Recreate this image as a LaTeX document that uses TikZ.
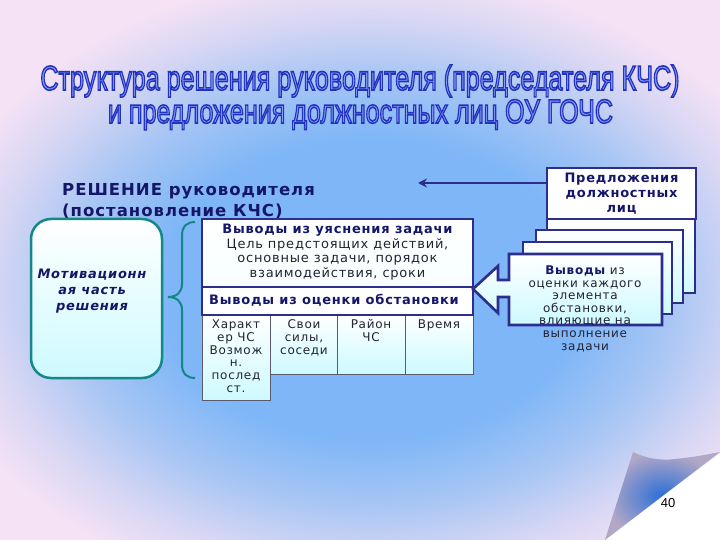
\documentclass[tikz,border=0pt]{standalone}
\usepackage{graphicx}
\usepackage{fontspec}
\usetikzlibrary{arrows.meta}
\setmainfont{DejaVu Sans}
\newfontfamily\dv{DejaVu Sans}[LetterSpace=6]
\newfontfamily\lib{Liberation Sans}
\definecolor{bgA}{RGB}{126,182,247}
\definecolor{bgB}{RGB}{168,198,244}
\definecolor{bgC}{RGB}{214,214,244}
\definecolor{bgD}{RGB}{245,226,245}
\definecolor{navyb}{RGB}{45,45,140}
\definecolor{navyt}{RGB}{22,22,105}
\definecolor{tealb}{RGB}{20,135,135}
\definecolor{lcyan}{RGB}{205,250,255}
\definecolor{txtg}{RGB}{35,35,50}
\definecolor{cellb}{RGB}{90,90,110}
\definecolor{ttlfill}{RGB}{140,155,245}
\definecolor{curlblue}{RGB}{45,110,215}
\definecolor{curlgray}{RGB}{178,168,198}
\pgfdeclareradialshading{bgsh}{\pgfpoint{0bp}{0bp}}{color(0bp)=(bgA); color(12.5bp)=(bgA); color(18bp)=(bgB); color(22.5bp)=(bgC); color(26.5bp)=(bgD); color(50bp)=(bgD)}
\newcommand\ttlout[1]{\special{pdf:literal direct 0.13 0.2 0.75 RG 0.45 w 2 Tr}#1\special{pdf:literal direct 0 Tr}}
\tikzset{
  bord/.style={draw=navyb, line width=2.6pt},
  card/.style={bord, top color=white, bottom color=lcyan, inner sep=0pt},
  subcell/.style={draw=cellb, line width=0.8pt, top color=white, bottom color=lcyan, inner sep=0pt, minimum width=68pt},
  boldtxt/.style={font=\dv\bfseries\fontsize{13}{14.7}\selectfont, text=navyt, inner sep=0pt, align=center},
  celltxt/.style={font=\dv\fontsize{12}{12.8}\selectfont, text=txtg, inner sep=0pt, align=center},
  ttl/.style={text=ttlfill, inner sep=0pt, anchor=base}
}
\begin{document}
\begin{tikzpicture}[x=1pt,y=-1pt]
\useasboundingbox (0,0) rectangle (720,540);
% background
\begin{scope}
\clip (0,0) rectangle (720,540);
\fill[bgD] (0,0) rectangle (720,540);
\shade[shading=bgsh] (-50,-10) rectangle (790,590);
\end{scope}
% page curl
\fill[white] (605,540) -- (720,453) -- (720,540) -- cycle;
\shade[inner color=curlblue, outer color=curlgray] (605,540) -- (633,452) .. controls (645,458) and (660,461) .. (675,459) .. controls (695,457) and (710,454) .. (720,452) -- cycle;
\node[font=\lib\fontsize{13}{13}\selectfont, text=black, inner sep=0pt] (pnum) at (668,503) {40};
% title
\node[ttl] (title1) at (360,90) {\lib\ttlout{\resizebox{639pt}{25pt}{Структура решения руководителя (председателя КЧС)}}};
\node[ttl] (title2) at (360.5,123) {\lib\ttlout{\resizebox{505pt}{23.5pt}{и предложения должностных лиц ОУ ГОЧС}}};
% heading
\node[font=\dv\bfseries\fontsize{16.5}{21.5}\selectfont, text=navyt, inner sep=0pt, anchor=north west, align=left] (resh) at (62,183) {РЕШЕНИЕ руководителя\\(постановление КЧС)};
% motivational part
\node[draw=tealb, line width=2.5pt, rounded corners=20pt, top color=white, middle color=white, bottom color=lcyan, minimum width=131pt, minimum height=159pt, inner sep=0pt] (motiv) at (96.5,298.5) {};
\node[font=\dv\bfseries\itshape\fontsize{13}{15.8}\selectfont, text=navyt, align=center, inner sep=0pt] (motivt) at (92,291) {Мотивационн\\ая часть\\решения};
% brace
\draw[tealb, line width=2pt] (195,222) .. controls (187,222) and (182,226) .. (182,236) -- (182,284) .. controls (182,292) and (177,297) .. (168,297) .. controls (177,297) and (182,302) .. (182,310) -- (182,364) .. controls (182,374) and (187,378) .. (195,378);
% sub cells
\node[subcell, minimum height=86pt] (c1) at (236,357) {};
\node[subcell, minimum height=60pt] (c2) at (304,344) {};
\node[subcell, minimum height=60pt] (c3) at (371,344) {};
\node[subcell, minimum height=60pt] (c4) at (439,344) {};
\node[celltxt, below=6pt] (c1t) at (c1.north) {Характ\\ер ЧС\\Возмож\\н.\\послед\\ст.};
\node[celltxt, below=6pt] (c2t) at (c2.north) {Свои\\силы,\\соседи};
\node[celltxt, below=6pt] (c3t) at (c3.north) {Район\\ЧС};
\node[celltxt, below=6pt] (c4t) at (c4.north) {Время};
% main table cells
\node[bord, top color=white, bottom color=white!85!lcyan, minimum width=271pt, minimum height=68pt, inner sep=0pt] (uyas) at (337.5,253) {};
\node[boldtxt, below=6pt] (uyast) at (uyas.north) {Выводы из уяснения задачи\\{\mdseries\color{txtg}Цель предстоящих действий,}\\{\mdseries\color{txtg}основные задачи, порядок}\\{\mdseries\color{txtg}взаимодействия, сроки}};
\node[bord, fill=white, minimum width=271pt, minimum height=28pt, inner sep=0pt] (ocen) at (337.5,301) {};
\node[boldtxt] (ocent) at (334,300) {Выводы из оценки обстановки};
% stack of cards
\node[card, minimum width=148pt, minimum height=74pt] (cardA) at (621,256) {};
\node[bord, fill=white, minimum width=149pt, minimum height=51pt, inner sep=0pt] (predl) at (621.5,193.5) {};
\node[font=\dv\bfseries\fontsize{13}{15.3}\selectfont, text=navyt, align=center, inner sep=0pt] (predlt) at (predl.center) {Предложения\\должностных\\лиц};
\node[card, minimum width=147pt, minimum height=73pt] (cardB) at (609.5,266.5) {};
\node[card, minimum width=149pt, minimum height=72pt] (cardC) at (597.5,278) {};
\path[card, line join=miter] (509,254) -- (662,254) -- (662,325) -- (509,325) -- (509,297) -- (498,297) -- (498,313) -- (473,289) -- (498,266) -- (498,280) -- (509,280) -- cycle;
\node[font=\dv\fontsize{12}{12.6}\selectfont, text=txtg, align=center, inner sep=0pt, anchor=north] (frontt) at (585,265.5) {{\bfseries\color{navyt}Выводы} из\\оценки каждого\\элемента\\обстановки,\\влияющие на\\выполнение\\задачи};
% arrow from proposals
\coordinate (atip) at (418,183);
\draw[navyb, line width=2.4pt, -{Stealth[length=9pt,width=9pt,inset=3pt]}] (predl.west |- atip) -- (atip);
\end{tikzpicture}
\end{document}
